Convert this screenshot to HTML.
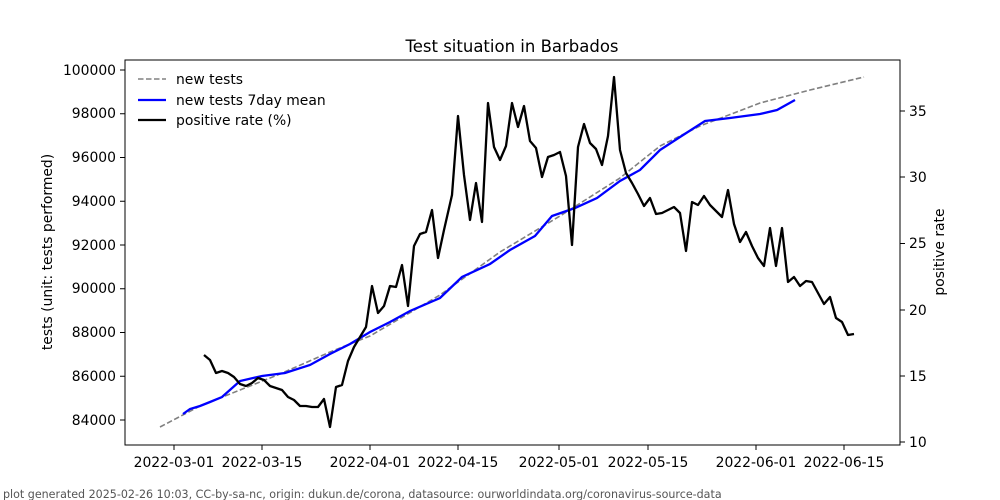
<!DOCTYPE html>
<html><head><meta charset="utf-8"><style>
html,body{margin:0;padding:0;background:#fff;}
svg{display:block;font-family:"DejaVu Sans","Liberation Sans",sans-serif;}
</style></head><body>
<svg width="1000" height="500" viewBox="0 0 1000 500" xmlns="http://www.w3.org/2000/svg">
<rect width="1000" height="500" fill="#fff"/>
<text x="512" y="52" font-size="16.5" text-anchor="middle">Test situation in Barbados</text>
<polyline fill="none" stroke="#808080" stroke-width="1.6" stroke-dasharray="5.5,2.5" points="160,427 200,406 240,390 280,374 330,352 370,336 440,295 500,252 560,216 620,178 660,146 700,126 760,103 810,90 864,77"/>
<polyline fill="none" stroke="#0000ff" stroke-width="2.3" points="183,414 190,409 200,406 210,402 222,397 240,381 262,376 285,373 310,365 330,354 350,344 370,332 390,322 410,311 440,298 462,277 490,264 510,250 535,236 552,216 575,208 597,198 620,181 640,170 660,150 680,137 705,121 730,118 760,114 777,110 795,100"/>
<polyline fill="none" stroke="#000" stroke-width="2.3" stroke-linejoin="round" points="204,355 210,360 216,373 222,371 228,373 234,377 240,384 246,386 252,383 258,378 264,380 270,386 276,388 282,390 288,397 294,400 300,406 306,406 312,407 318,407 324,399 330,427 336,387 342,385 348,361 354,347 360,337 366,327 372,286 378,313 384,306 390,286 396,287 402,265 408,306 414,246 420,234 426,232 432,210 438,258 444,230 452,195 458,116 464,175 470,220 476,183 482,222 488,103 494,147 500,160 506,146 512,103 518,127 524,106 530,141 536,148 542,177 548,157 554,155 560,152 566,176 572,245 578,147 584,124 590,143 596,149 602,165 608,136 614,77 620,150 626,173 632,183 638,194 644,206 650,198 656,214 662,213 668,210 674,207 680,213 686,251 692,202 698,205 704,196 710,205 716,211 722,217 728,190 734,224 740,242 746,232 752,246 758,258 764,266 770,228 776,266 782,228 788,282 794,277 800,286 806,281 812,282 818,293 824,304 830,297 836,318 842,322 848,335 854,334"/>
<rect x="125" y="60" width="775" height="385" fill="none" stroke="#000" stroke-width="1"/>
<g stroke="#000" stroke-width="1">
<line x1="120" y1="420" x2="125" y2="420"/><line x1="120" y1="376.25" x2="125" y2="376.25"/><line x1="120" y1="332.5" x2="125" y2="332.5"/><line x1="120" y1="288.75" x2="125" y2="288.75"/><line x1="120" y1="245" x2="125" y2="245"/><line x1="120" y1="201.25" x2="125" y2="201.25"/><line x1="120" y1="157.5" x2="125" y2="157.5"/><line x1="120" y1="113.75" x2="125" y2="113.75"/><line x1="120" y1="70" x2="125" y2="70"/>
<line x1="900" y1="442" x2="905" y2="442"/><line x1="900" y1="376" x2="905" y2="376"/><line x1="900" y1="310" x2="905" y2="310"/><line x1="900" y1="243.5" x2="905" y2="243.5"/><line x1="900" y1="177" x2="905" y2="177"/><line x1="900" y1="111" x2="905" y2="111"/>
<line x1="174" y1="445" x2="174" y2="450"/><line x1="262" y1="445" x2="262" y2="450"/><line x1="370" y1="445" x2="370" y2="450"/><line x1="458" y1="445" x2="458" y2="450"/><line x1="559" y1="445" x2="559" y2="450"/><line x1="648" y1="445" x2="648" y2="450"/><line x1="756" y1="445" x2="756" y2="450"/><line x1="844" y1="445" x2="844" y2="450"/>
</g>
<g font-size="13.9" text-anchor="end">
<text x="116" y="425">84000</text><text x="116" y="381">86000</text><text x="116" y="337">88000</text><text x="116" y="293">90000</text><text x="116" y="250">92000</text><text x="116" y="206">94000</text><text x="116" y="162">96000</text><text x="116" y="118">98000</text><text x="116" y="75">100000</text>
</g>
<g font-size="13.9">
<text x="909" y="447">10</text><text x="909" y="381">15</text><text x="909" y="315">20</text><text x="909" y="248">25</text><text x="909" y="182">30</text><text x="909" y="116">35</text>
</g>
<g font-size="13.9" text-anchor="middle">
<text x="174" y="467">2022-03-01</text><text x="262" y="467">2022-03-15</text><text x="370" y="467">2022-04-01</text><text x="458" y="467">2022-04-15</text><text x="559" y="467">2022-05-01</text><text x="648" y="467">2022-05-15</text><text x="756" y="467">2022-06-01</text><text x="844" y="467">2022-06-15</text>
</g>
<text transform="translate(52,252) rotate(-90)" font-size="13.9" text-anchor="middle">tests (unit: tests performed)</text>
<text transform="translate(944,252) rotate(-90)" font-size="13.9" text-anchor="middle">positive rate</text>
<line x1="138" y1="79" x2="166" y2="79" stroke="#808080" stroke-width="1.6" stroke-dasharray="5.5,2.5"/>
<line x1="138" y1="100" x2="166" y2="100" stroke="#0000ff" stroke-width="2.3"/>
<line x1="138" y1="120" x2="166" y2="120" stroke="#000" stroke-width="2.3"/>
<g font-size="13.9"><text x="176" y="84">new tests</text><text x="176" y="105">new tests 7day mean</text><text x="176" y="125">positive rate (%)</text></g>
<text x="3" y="498" font-size="11.1" fill="#555">plot generated 2025-02-26 10:03, CC-by-sa-nc, origin: dukun.de/corona, datasource: ourworldindata.org/coronavirus-source-data</text>
</svg>
</body></html>
